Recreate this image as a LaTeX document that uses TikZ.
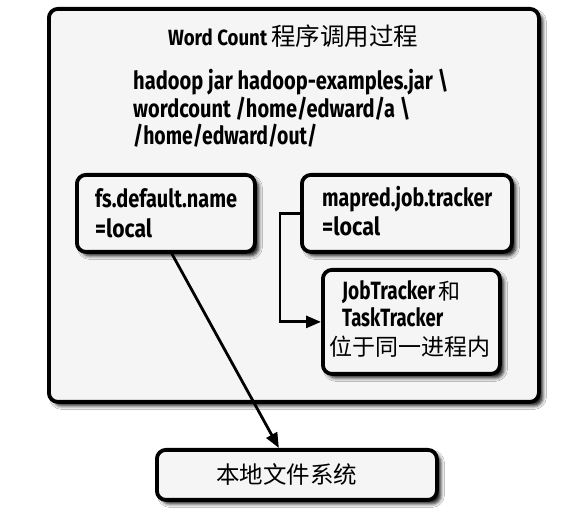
\documentclass[tikz,border=0pt]{standalone}
\usepackage{fontspec}
\usepackage{graphicx}
\setmainfont{Fira Sans}
\newfontfamily\cjk{Noto Sans CJK SC}
\newcommand\fw[2]{\resizebox{#1}{\height}{#2}}
\usetikzlibrary{shadows.blur,arrows.meta,calc}
\tikzset{
  box/.style={draw=black, line width=3.8pt, rounded corners=9pt, fill=black!4,
    blur shadow={shadow xshift=4pt, shadow yshift=-4pt, shadow blur radius=3.5pt, shadow opacity=90},
    inner sep=0pt},
  txt/.style={font=\bfseries\fontsize{25}{30}\selectfont, inner sep=0pt, anchor=base west},
  cjktxt/.style={font=\cjk\fontsize{23}{26}\selectfont, inner sep=0pt, anchor=base west},
  arr/.style={line width=2.8pt, -{Triangle[length=15pt,width=12pt]}},
}
\begin{document}
\begin{tikzpicture}[x=1pt,y=-1pt]
\useasboundingbox[fill=white] (0,0) rectangle (574,518);
% outer box
\node[box, minimum width=490pt, minimum height=393pt, anchor=north west] (outer) at (47,7) {};
% title
\node[txt, font=\bfseries\fontsize{22}{24}\selectfont] (title) at (168,46)
  {\fw{99pt}{Word Count}\hspace{4pt}{\cjk\mdseries\fontsize{24.5}{24}\selectfont 程序调用过程}};
% command
\node[txt] (cmd1) at (133,90) {\fw{315pt}{hadoop jar hadoop-examples.jar \textbackslash}};
\node[txt] (cmd2) at (133,118) {\fw{277pt}{wordcount /home/edward/a \textbackslash}};
\node[txt] (cmd3) at (133,145) {\fw{184pt}{/home/edward/out/}};
% fs box
\node[box, minimum width=178pt, minimum height=77pt, anchor=north west] (fs) at (75,173) {};
\node[txt] (fst) at (95,208) {\fw{142pt}{fs.default.name}};
\node[txt] (fsl) at (95,238) {\fw{57pt}{=local}};
% mapred box
\node[box, minimum width=210pt, minimum height=77pt, anchor=north west] (mr) at (300,173) {};
\node[txt] (mrt) at (322,207) {\fw{170pt}{mapred.job.tracker}};
\node[txt] (mrl) at (322,236) {\fw{58pt}{=local}};
% JobTracker box
\node[box, minimum width=177pt, minimum height=104pt, anchor=north west] (jt) at (321,268) {};
\node[txt] (jt1) at (342,300) {\fw{93pt}{JobTracker}\hspace{3pt}{\cjk\mdseries\fontsize{22}{26}\selectfont 和}};
\node[txt] (jt2) at (342,327) {\fw{101pt}{TaskTracker}};
\node[cjktxt] (jt3) at (329,356) {位于同一进程内};
% local fs box
\node[box, minimum width=280pt, minimum height=50pt, anchor=north west,
  font=\cjk\fontsize{23.5}{26}\selectfont] (lfs) at (155,448) {本地文件系统\hspace*{20pt}};
% connectors
\draw[arr] (mr.west) -- ++(-20,0) |- (jt.west);
\draw[arr] ($(fs.south)+(6,0)$) -- ($(lfs.north)+(-18,0)$);
\end{tikzpicture}
\end{document}
